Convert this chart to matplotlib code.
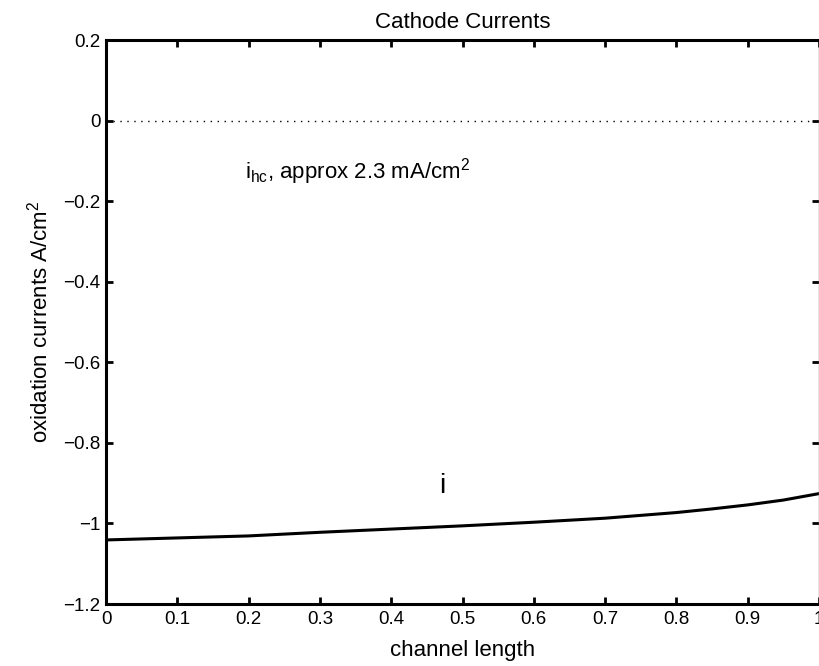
import matplotlib
matplotlib.use("Agg")
import matplotlib.pyplot as plt
import numpy as np

plt.rcParams['font.family'] = ['Liberation Sans', 'DejaVu Sans']
plt.rcParams['mathtext.fontset'] = 'custom'
plt.rcParams['mathtext.rm'] = 'Liberation Sans'

# channel position and cathode current
x_pos = [0.0, 0.1, 0.2, 0.3, 0.4, 0.5, 0.6, 0.7, 0.8, 0.85, 0.9, 0.95, 1.0]
i_cur = [-1.041, -1.036, -1.031, -1.022, -1.014, -1.006, -0.997, -0.987,
         -0.973, -0.964, -0.954, -0.942, -0.926]
hc_x = [0.0, 1.0]
hc_cur = [-0.0023, -0.0023]

fig = plt.figure(figsize=(8.19, 6.66), dpi=100)
ax = fig.add_axes([106/819, 62/666, 713/819, 564/666])

ax.plot(x_pos, i_cur, color='black', linewidth=2.2)
ax.plot(hc_x, hc_cur, color='black', linewidth=1.0, linestyle=(0, (1, 4)))

ax.text(0.195, -0.145, r'i$_\mathregular{hc}$, approx 2.3 mA/cm$^\mathregular{2}$',
        fontsize=16, va='baseline', ha='left')
ax.text(0.467, -0.906, 'i', fontsize=20, va='center', ha='left')

ax.set_xlim(0, 1)
ax.set_ylim(-1.2, 0.2)
ax.set_xticks(np.arange(0, 1.01, 0.1))
ax.set_xticklabels(['0', '0.1', '0.2', '0.3', '0.4', '0.5', '0.6', '0.7',
                    '0.8', '0.9', '1'])
ax.set_yticks(np.arange(-1.2, 0.21, 0.2))
ax.set_yticklabels(['\u22121.2', '\u22121', '\u22120.8', '\u22120.6',
                    '\u22120.4', '\u22120.2', '0', '0.2'])
ax.tick_params(axis='both', direction='in', length=5, width=2, labelsize=13.5,
               top=True, right=True)
ax.tick_params(axis='x', pad=5)
ax.tick_params(axis='y', pad=4)
for s in ax.spines.values():
    s.set_linewidth(2.2)
ax.spines['right'].set_color('gray')
ax.spines['right'].set_linewidth(1)

ax.set_title('Cathode Currents', fontsize=16, pad=9)
ax.set_xlabel('channel length', fontsize=16, labelpad=9)
ax.set_ylabel(r'oxidation currents A/cm$^\mathregular{2}$', fontsize=16, labelpad=8)

fig.savefig('out.png', dpi=100)
